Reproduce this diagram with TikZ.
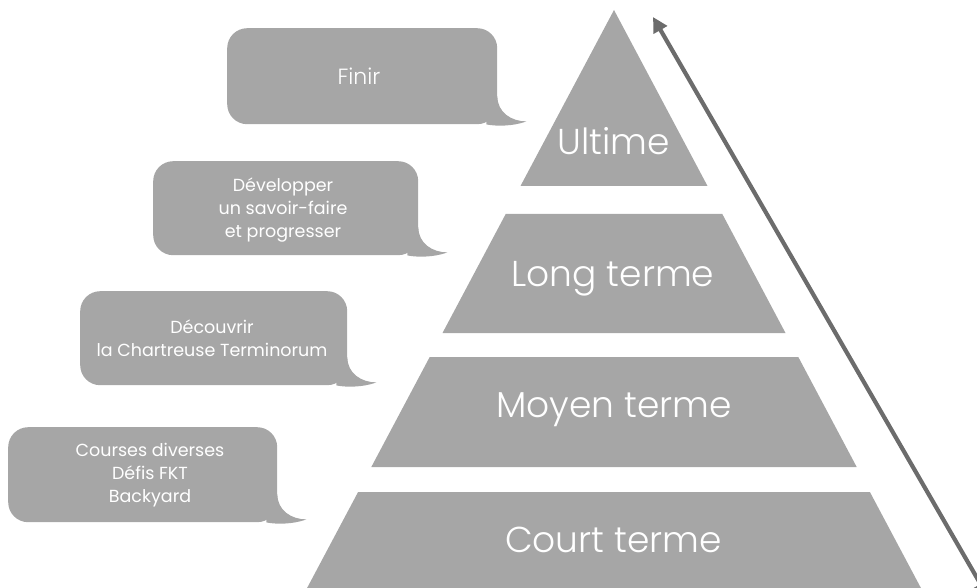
\documentclass[tikz,border=0pt]{standalone}
\usepackage{fontspec}
\setmainfont{Poppins}[UprightFont=* Light]
\newfontfamily\regfont{Poppins}
\usetikzlibrary{arrows.meta,calc}
\definecolor{pgray}{HTML}{A6A6A6}
\definecolor{agray}{HTML}{6C6C6C}
\newcommand\bubbletail[1]{%
  \fill[pgray] ($(#1.south east)+(0,-28)$) .. controls ($(#1.south east)+(0,-12)$) and ($(#1.south east)+(14,-3)$) .. ($(#1.south east)+(29,-3)$)
    .. controls ($(#1.south east)+(16,2)$) and ($(#1.south east)+(-2,2)$) .. ($(#1.south east)+(-11,0)$)
    -- ($(#1.south east)+(-12,-28)$) -- cycle;}
\begin{document}
\begin{tikzpicture}[x=1pt,y=-1pt,
  level/.style={fill=pgray},
  ltext/.style={text=white,font=\fontsize{36}{40}\selectfont,anchor=base,inner sep=0pt},
  bubble/.style={fill=pgray,rounded corners=20pt,inner sep=0pt,anchor=north west},
  btext/.style={text=white,font=\regfont\fontsize{17.5}{23}\selectfont,align=center,inner sep=0pt},
  arr/.style={draw=agray,line width=4.2pt,{Triangle[length=15pt,width=15pt]}-{Triangle[length=15pt,width=15pt]}}]
\useasboundingbox (0,0) rectangle (977,588);
\clip (0,0) rectangle (977,588);
% pyramid levels
\fill[level] (614,10) -- (707.5,186) -- (520.5,186) -- cycle;
\fill[level] (505.7,214) -- (722.3,214) -- (785.5,333) -- (442.5,333) -- cycle;
\fill[level] (429.7,357) -- (798.3,357) -- (856.7,467) -- (371.3,467) -- cycle;
\fill[level] (358.1,492) -- (869.9,492) -- (927.3,600) -- (300.7,600) -- cycle;
\node[ltext] (ult) at (614,155) {Ultime};
\node[ltext] (long) at (613,286) {Long terme};
\node[ltext] (moy) at (614,417) {Moyen terme};
\node[ltext] (court) at (613.5,552) {Court terme};
% bubbles
\node[bubble,minimum width=270pt,minimum height=96pt] (b1) at (227,28) {};
\node[bubble,minimum width=265pt,minimum height=94pt] (b2) at (153,161) {};
\node[bubble,minimum width=267pt,minimum height=94pt] (b3) at (80,291) {};
\node[bubble,minimum width=269pt,minimum height=95pt] (b4) at (8,427) {};
\bubbletail{b1}
\bubbletail{b2}
\bubbletail{b3}
\bubbletail{b4}
\node[btext,font=\fontsize{22}{28}\selectfont] (t1) at (359,76) {Finir};
\node[btext] (t2) at (283,210) {Développer\\un savoir-faire\\et progresser};
\node[btext] (t3) at (212,338) {Découvrir\\la Chartreuse Terminorum};
\node[btext] (t4) at (150,475) {Courses diverses\\Défis FKT\\Backyard};
% arrow
\coordinate (atop) at (653,17);
\coordinate (abot) at (988,597);
\draw[arr] (atop) -- (abot);
\end{tikzpicture}
\end{document}
